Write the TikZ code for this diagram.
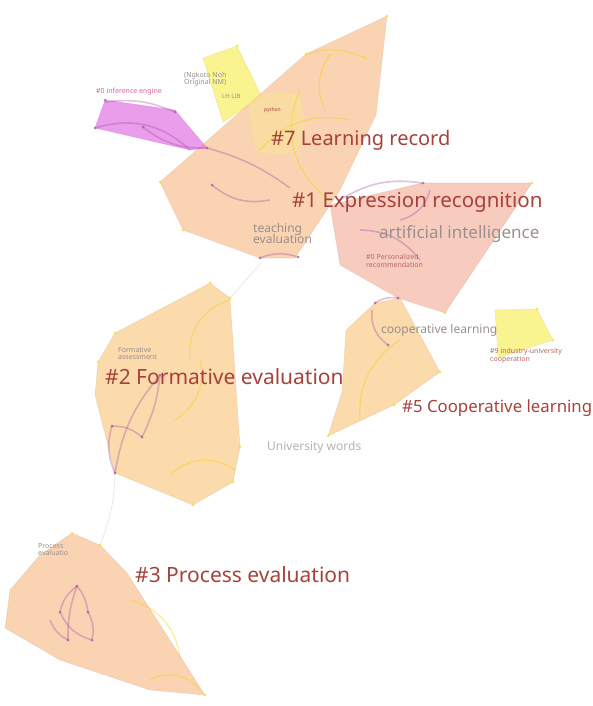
\documentclass[tikz,border=0pt]{standalone}
\usepackage{fontspec}
\setmainfont{Noto Sans}
\usetikzlibrary{positioning}

\definecolor{peach}{HTML}{F9CBA6}
\definecolor{rosy}{HTML}{F6C3B4}
\definecolor{amber}{HTML}{FAD39E}
\definecolor{lemon}{HTML}{F8F27C}
\definecolor{orchid}{HTML}{E27CE4}
\definecolor{labelred}{HTML}{A5423C}
\definecolor{labelgray}{HTML}{9A8F8C}

\begin{document}
\begin{tikzpicture}[
    x=1pt, y=-1pt,
    cluster/.style={draw=#1!80!black, draw opacity=0.25, fill=#1, fill opacity=0.85, line width=0.6pt},
    link/.style={violet!70, line width=1.6pt, opacity=0.35},
    glink/.style={yellow!70!orange, line width=1.1pt, opacity=0.45},
    dot/.style={circle, fill=#1, inner sep=0pt, minimum size=3pt, opacity=0.7},
    bigtag/.style={text=labelred, font=\fontsize{#1}{#1}\selectfont, anchor=west, inner sep=0pt},
    midtag/.style={text=labelgray, font=\fontsize{#1}{#1}\selectfont, anchor=west, inner sep=0pt, align=left},
    smalltag/.style={text=labelred!80, font=\fontsize{7}{8}\selectfont, anchor=west, inner sep=0pt, align=left}
]

\useasboundingbox (0,0) rectangle (593,706);

% clusters
\fill[cluster=lemon] (203,58) -- (237,46) -- (262,97) -- (223,122) -- cycle;
\fill[cluster=peach] (160,182) -- (306,54) -- (387,16) -- (376,115) -- (340,190) -- (295,258) -- (260,258) -- (183,230) -- cycle;
\fill[lemon, opacity=0.3] (248,100) to[bend left=20] (300,95) to[bend left=15] (300,150) to[bend left=20] (255,150) -- cycle;
\fill[cluster=orchid, fill opacity=0.75] (95,128) -- (105,100) -- (175,110) -- (207,148) -- (190,150) -- cycle;
\fill[cluster=rosy] (330,205) -- (422,183) -- (532,183) -- (445,313) -- (398,298) -- (340,265) -- cycle;
\fill[cluster=lemon] (495,310) -- (537,309) -- (553,340) -- (498,358) -- cycle;
\fill[cluster=amber] (375,303) -- (400,298) -- (440,372) -- (394,405) -- (328,436) -- (342,392) -- (346,330) -- cycle;
\fill[cluster=amber] (115,333) -- (210,283) -- (230,298) -- (240,447) -- (233,482) -- (193,505) -- (115,473) -- (95,395) -- (98,362) -- cycle;
\fill[cluster=peach] (40,555) -- (72,533) -- (100,545) -- (127,573) -- (205,695) -- (150,690) -- (60,660) -- (5,628) -- (10,590) -- cycle;

% yellow links inside the clusters
\draw[glink] (306,54) to[bend left=20] (365,58);
\draw[glink] (330,55) to[bend right=30] (325,110);
\draw[glink] (300,90) to[bend right=40] (330,200);
\draw[glink] (260,150) to[bend left=30] (350,120);
\draw[glink] (190,360) to[bend left=40] (230,300);
\draw[glink] (175,420) to[bend right=35] (200,360);
\draw[glink] (170,475) to[bend left=40] (235,470);
\draw[glink] (360,420) to[bend left=30] (400,340);
\draw[glink] (130,600) to[bend left=35] (180,660);
\draw[glink] (150,680) to[bend left=40] (200,690);

% purple links
\draw[link] (105,102) to[bend left=15] (175,112);
\draw[link] (95,128) to[bend left=30] (190,150);
\draw[link] (143,127) to[bend right=20] (207,148);
\draw[link] (207,148) to[bend left=10] (290,188);
\draw[link] (212,185) to[bend right=25] (270,200);
\draw[link] (260,258) to[bend left=20] (298,257);
\draw[link] (340,200) to[bend left=20] (422,183);
\draw[link] (400,220) to[bend right=30] (430,190);
\draw[link] (360,230) to[bend left=25] (420,260);
\draw[link] (375,303) to[bend left=20] (398,298);
\draw[link] (372,310) to[bend right=30] (388,345);
\draw[link] (160,375) to[bend right=15] (115,473);
\draw[link] (160,375) to[bend left=10] (142,437);
\draw[link] (112,426) to[bend left=20] (142,437);
\draw[link] (112,426) to[bend right=20] (115,473);
\draw[link] (77,586) to[bend right=20] (60,612);
\draw[link] (77,586) to[bend left=15] (88,612);
\draw[link] (77,586) to[bend right=10] (68,640);
\draw[link] (60,612) to[bend right=25] (92,640);
\draw[link] (88,612) to[bend left=20] (92,640);
\draw[link] (50,620) to[bend right=20] (68,640);
\draw[link, violet!30, line width=0.8pt] (115,473) to[bend left=10] (100,545);
\draw[link, violet!30, line width=0.8pt] (230,298) -- (262,262);

% cluster members
\foreach \p in {(105,100),(175,112),(143,127),(95,128),(207,148)}
    \node[dot=orchid!70!black] at \p {};
\foreach \p in {(423,183),(340,200),(375,303),(398,298),(388,345),(260,258),(298,257),(212,185)}
    \node[dot=violet!70] at \p {};
\foreach \p in {(160,375),(142,437),(112,426),(115,473),(77,586),(60,612),(88,612),(68,640),(92,640)}
    \node[dot=violet!70] at \p {};
\foreach \p in {(210,283),(230,298),(240,447),(233,482),(193,505),(98,362),(115,333),(440,372),(394,405),(328,436),(532,183),(445,313),(537,309),(553,340),(237,46),(306,54),(387,16),(330,55),(365,58),(160,182),(183,230),(205,695),(72,533),(100,545)}
    \node[dot=yellow!80!orange] at \p {};

% labels
\node[bigtag=20] (learn) at (271,140) {\#7 Learning record};
\node[bigtag=20.5] (expr) at (292,202) {\#1 Expression recognition};
\node[bigtag=21] (form) at (105,377) {\#2 Formative evaluation};
\node[bigtag=16.8] (coop) at (402,408) {\#5 Cooperative learning};
\node[bigtag=21] (proc) at (135,575) {\#3 Process evaluation};

\node[midtag=17] (ai) at (379,234) {artificial intelligence};
\node[midtag=12] (teach) at (253,233) {teaching\\[-1pt]evaluation};
\node[midtag=12] (cl) at (381,330) {cooperative learning};
\node[midtag=12, text=labelgray!70] (univ) at (267,447) {University words};
\node[midtag=7] (fa) at (118,353) {Formative\\assessment};
\node[midtag=7] (pe) at (38,550) {Process\\evaluatio};
\node[midtag=7] (ngk) at (184,79) {(Ngkoto Noh\\Original NM)};
\node[midtag=6] (lib) at (222,96) {LH LIB};
\node[midtag=5, text=labelred] (py) at (264,110) {python};

\node[smalltag] (pr) at (366,261) {\#0 Personalized\\recommendation};
\node[smalltag] (iu) at (490,356) {\#9 industry-university\\cooperation};
\node[smalltag, text=orchid!60!labelred] (inf) at (96,92) {\#0 inference engine};

\end{tikzpicture}
\end{document}
